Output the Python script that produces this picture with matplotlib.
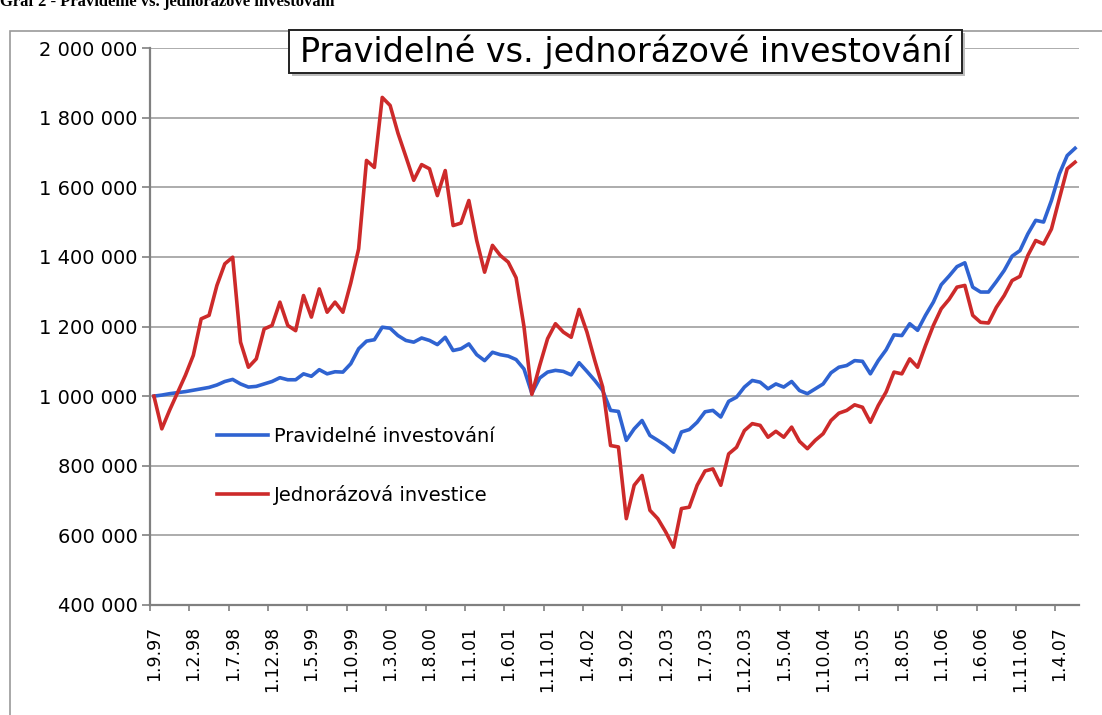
import matplotlib
matplotlib.use("Agg")
import matplotlib.pyplot as plt
from matplotlib.patches import Rectangle

# hodnoty portfolia po mesicich 1.9.97 - 1.6.07
pravidelne = [1000000, 1003000, 1007000, 1010000, 1013000, 1017000, 1021000, 1025000, 1032000, 1042000,
              1048000, 1035000, 1026000, 1028000, 1035000, 1042000, 1053000, 1047000, 1047000, 1064000,
              1057000, 1076000, 1064000, 1070000, 1069000, 1093000, 1136000, 1158000, 1162000, 1198000,
              1195000, 1174000, 1160000, 1155000, 1167000, 1160000, 1148000, 1169000, 1131000, 1136000,
              1150000, 1119000, 1102000, 1126000, 1119000, 1115000, 1105000, 1078000, 1008000, 1052000,
              1069000, 1074000, 1071000, 1061000, 1096000, 1071000, 1045000, 1016000, 959000, 956000,
              873000, 906000, 930000, 887000, 873000, 858000, 839000, 897000, 904000, 925000,
              955000, 959000, 940000, 985000, 997000, 1026000, 1045000, 1040000, 1021000, 1035000,
              1026000, 1042000, 1016000, 1007000, 1021000, 1035000, 1067000, 1083000, 1088000, 1102000,
              1100000, 1064000, 1102000, 1133000, 1176000, 1174000, 1208000, 1189000, 1232000, 1270000,
              1320000, 1345000, 1372000, 1383000, 1313000, 1299000, 1299000, 1329000, 1361000, 1402000,
              1418000, 1466000, 1505000, 1500000, 1562000, 1638000, 1691000, 1712000]

jednorazova = [1000000, 906000, 960000, 1010000, 1060000, 1117000, 1222000, 1232000, 1318000, 1380000,
               1399000, 1155000, 1083000, 1107000, 1193000, 1203000, 1270000, 1203000, 1188000, 1289000,
               1227000, 1308000, 1241000, 1270000, 1241000, 1325000, 1423000, 1677000, 1657000, 1858000,
               1835000, 1755000, 1688000, 1620000, 1665000, 1653000, 1576000, 1648000, 1490000, 1497000,
               1562000, 1447000, 1356000, 1433000, 1404000, 1385000, 1340000, 1200000, 1005000, 1088000,
               1165000, 1208000, 1184000, 1169000, 1249000, 1184000, 1102000, 1026000, 858000, 854000,
               648000, 744000, 772000, 672000, 648000, 610000, 566000, 677000, 681000, 744000,
               785000, 791000, 744000, 834000, 853000, 901000, 921000, 916000, 882000, 899000,
               882000, 911000, 870000, 849000, 873000, 892000, 930000, 951000, 959000, 975000,
               968000, 925000, 973000, 1012000, 1069000, 1064000, 1107000, 1083000, 1145000, 1203000,
               1251000, 1278000, 1313000, 1318000, 1232000, 1212000, 1210000, 1255000, 1289000, 1332000,
               1344000, 1404000, 1447000, 1437000, 1480000, 1567000, 1653000, 1672000]

datum_popisky = ["1.9.97", "1.2.98", "1.7.98", "1.12.98", "1.5.99", "1.10.99", "1.3.00", "1.8.00",
                 "1.1.01", "1.6.01", "1.11.01", "1.4.02", "1.9.02", "1.2.03", "1.7.03", "1.12.03",
                 "1.5.04", "1.10.04", "1.3.05", "1.8.05", "1.1.06", "1.6.06", "1.11.06", "1.4.07"]

y_hodnoty = [400000, 600000, 800000, 1000000, 1200000, 1400000, 1600000, 1800000, 2000000]
y_popisky = ["400 000", "600 000", "800 000", "1 000 000", "1 200 000", "1 400 000",
             "1 600 000", "1 800 000", "2 000 000"]

plt.rcParams['font.family'] = ['DejaVu Sans']

W, H = 1102, 715
fig = plt.figure(figsize=(W / 100, H / 100), dpi=100)
ax = fig.add_axes([150 / W, 1 - 605 / H, (1079 - 150) / W, (605 - 48) / H])

x = list(range(len(pravidelne)))
ax.plot(x, pravidelne, color='#2F63D1', lw=2.6, label='Pravidelné investování', zorder=3)
ax.plot(x, jednorazova, color='#CD2A2A', lw=2.6, label='Jednorázová investice', zorder=3)

ax.set_xlim(-0.5, len(x) - 0.5)
ax.set_ylim(400000, 2000000)

ax.set_yticks(y_hodnoty, y_popisky, fontsize=14)
ax.grid(axis='y', color='#A6A6A6', lw=1.3)
ax.set_axisbelow(True)

pozice = [5 * i for i in range(len(datum_popisky))]
ax.set_xticks(pozice, datum_popisky, rotation=90, fontsize=12.5)
ax.set_xticks([p - 0.5 for p in pozice], minor=True)
ax.tick_params(axis='x', which='major', length=0, pad=15)
ax.tick_params(axis='x', which='minor', length=4, color='#808080', width=1.2)
ax.tick_params(axis='y', length=6, color='#808080', width=1.2, pad=3)

for s in ['top', 'right']:
    ax.spines[s].set_visible(False)
for s in ['left', 'bottom']:
    ax.spines[s].set_color('#808080')
    ax.spines[s].set_linewidth(1.6)

leg = ax.legend(loc='upper left', bbox_to_anchor=(217 / W, 1 - 427 / H),
                bbox_transform=fig.transFigure, frameon=False, fontsize=14,
                handlelength=2.6, handletextpad=0.35, labelspacing=2.0,
                borderpad=0, borderaxespad=0)

# titulek v ramecku se stinem
fig.add_artist(Rectangle((292 / W, 1 - 76 / H), (962 - 289) / W, 43 / H,
                         transform=fig.transFigure, facecolor='#BDBDBD', edgecolor='none', zorder=5))
fig.add_artist(Rectangle((289 / W, 1 - 73 / H), (962 - 289) / W, 43 / H,
                         transform=fig.transFigure, facecolor='white', edgecolor='#222222',
                         lw=1.4, zorder=6))
fig.text(625.5 / W, 1 - 52 / H, 'Pravidelné vs. jednorázové investování', fontsize=24,
         ha='center', va='center', zorder=7)

# vnejsi ramecek grafu (pravy a spodni okraj jsou mimo obrazek)
fig.add_artist(Rectangle((10 / W, -10 / H), (1120 - 10) / W, (715 + 10 - 31) / H,
                         transform=fig.transFigure, facecolor='none', edgecolor='#9A9A9A',
                         lw=1.2, zorder=1))

# orezany popisek nad grafem
fig.text(0, 1 - 6 / H, 'Graf 2 - Pravidelné vs. jednorázové investování', fontsize=12,
         fontweight='bold', family=['Liberation Serif'], ha='left', va='baseline')

fig.savefig('out.png', dpi=100)
